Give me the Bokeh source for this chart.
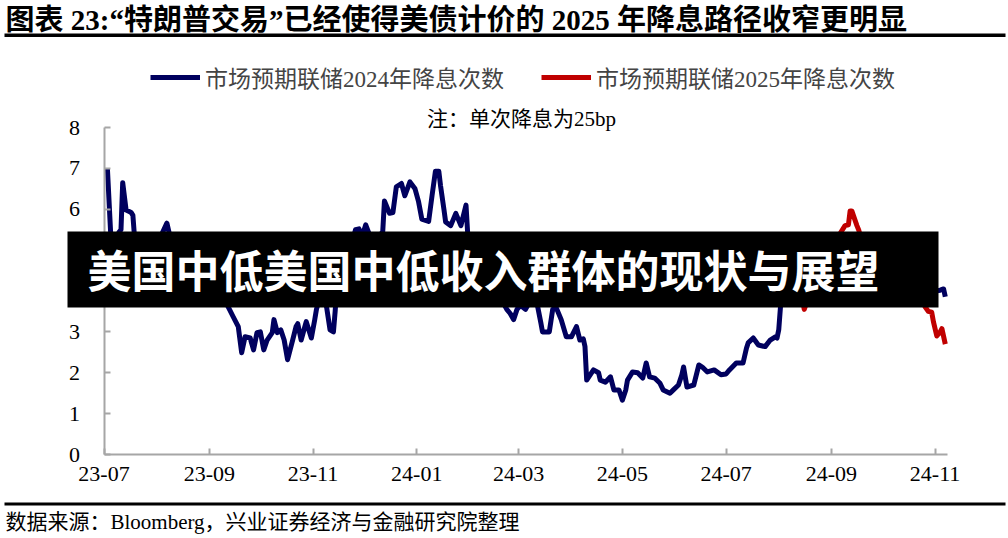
import pandas as pd
from bokeh.plotting import figure
from bokeh.models import (Range1d, FixedTicker, DatetimeTickFormatter, Label,
                          BoxAnnotation, Legend, LegendItem)
from bokeh.embed import file_html
from bokeh.resources import INLINE

# ---------------- data ----------------
blue_dates = [
    "2023-07-03", "2023-07-05", "2023-07-07", "2023-07-10", "2023-07-11", "2023-07-12",
    "2023-07-14", "2023-07-17", "2023-07-18", "2023-07-19", "2023-07-21", "2023-07-24",
    "2023-07-26", "2023-07-28", "2023-07-31", "2023-08-03", "2023-08-07", "2023-08-09",
    "2023-08-11", "2023-08-15", "2023-08-18", "2023-08-22", "2023-08-25", "2023-08-29",
    "2023-09-01", "2023-09-05", "2023-09-08", "2023-09-11", "2023-09-12", "2023-09-15",
    "2023-09-18", "2023-09-20", "2023-09-22", "2023-09-25", "2023-09-27", "2023-09-29",
    "2023-10-01", "2023-10-03", "2023-10-05", "2023-10-08", "2023-10-09", "2023-10-11",
    "2023-10-13", "2023-10-15", "2023-10-17", "2023-10-20", "2023-10-22", "2023-10-23",
    "2023-10-25", "2023-10-27", "2023-10-28", "2023-10-31", "2023-11-02", "2023-11-03",
    "2023-11-05", "2023-11-07", "2023-11-09", "2023-11-11", "2023-11-13", "2023-11-14",
    "2023-11-15", "2023-11-17", "2023-11-20", "2023-11-22", "2023-11-24", "2023-11-26",
    "2023-11-28", "2023-11-30", "2023-12-02", "2023-12-04", "2023-12-06", "2023-12-08",
    "2023-12-11", "2023-12-12", "2023-12-13", "2023-12-16", "2023-12-18", "2023-12-20",
    "2023-12-23", "2023-12-25", "2023-12-28", "2023-12-31", "2024-01-02", "2024-01-04",
    "2024-01-08", "2024-01-10", "2024-01-12", "2024-01-14", "2024-01-15", "2024-01-17",
    "2024-01-18", "2024-01-21", "2024-01-24", "2024-01-27", "2024-01-30", "2024-01-31",
    "2024-02-02", "2024-02-05", "2024-02-08", "2024-02-12", "2024-02-14", "2024-02-16",
    "2024-02-19", "2024-02-21", "2024-02-23", "2024-02-25", "2024-02-27", "2024-02-29",
    "2024-03-02", "2024-03-05", "2024-03-07", "2024-03-09", "2024-03-12", "2024-03-14",
    "2024-03-15", "2024-03-19", "2024-03-21", "2024-03-23", "2024-03-26", "2024-03-29",
    "2024-04-01", "2024-04-04", "2024-04-06", "2024-04-08", "2024-04-09", "2024-04-10",
    "2024-04-14", "2024-04-17", "2024-04-18", "2024-04-21", "2024-04-24", "2024-04-26",
    "2024-04-29", "2024-05-01", "2024-05-03", "2024-05-04", "2024-05-07", "2024-05-10",
    "2024-05-13", "2024-05-15", "2024-05-17", "2024-05-20", "2024-05-23", "2024-05-25",
    "2024-05-29", "2024-05-31", "2024-06-03", "2024-06-05", "2024-06-06", "2024-06-08",
    "2024-06-12", "2024-06-15", "2024-06-17", "2024-06-20", "2024-06-24", "2024-06-28",
    "2024-07-01", "2024-07-03", "2024-07-07", "2024-07-11", "2024-07-13", "2024-07-14",
    "2024-07-17", "2024-07-20", "2024-07-24", "2024-07-27", "2024-07-30", "2024-07-31",
    "2024-08-01", "2024-08-02", "2024-08-05", "2024-08-08", "2024-08-12", "2024-08-15",
    "2024-08-19", "2024-08-23", "2024-08-27", "2024-09-03", "2024-09-06", "2024-09-10",
    "2024-09-13", "2024-09-18", "2024-09-24", "2024-09-30", "2024-10-04", "2024-10-10",
    "2024-10-16", "2024-10-22", "2024-10-28", "2024-11-01", "2024-11-04", "2024-11-06",
    "2024-11-07",
]
blue_values = [
    7.00, 5.35, 5.20, 5.45, 5.50, 6.65,
    5.98, 5.92, 5.85, 5.30, 5.15, 5.25,
    5.05, 5.30, 5.20, 5.30, 5.66, 5.30,
    5.10, 4.95, 4.80, 4.85, 4.60, 4.45,
    4.30, 4.10, 3.90, 3.70, 3.62, 3.37,
    3.13, 2.49, 2.88, 2.85, 2.56, 2.98,
    3.00, 2.56, 2.80, 2.98, 3.30, 2.98,
    3.05, 2.80, 2.32, 2.80, 3.13, 3.20,
    2.80, 3.10, 3.25, 2.85, 3.30, 3.55,
    3.85, 3.90, 3.60, 3.05, 3.00, 3.50,
    4.10, 4.40, 4.70, 5.00, 5.20, 5.50,
    5.52, 5.35, 5.62, 5.40, 5.30, 5.25,
    5.40, 5.45, 6.20, 5.90, 5.92, 6.55,
    6.63, 6.33, 6.67, 6.50, 6.20, 5.76,
    5.70, 6.33, 6.93, 6.93, 6.58, 6.00,
    5.69, 5.60, 5.90, 5.60, 6.10, 5.40,
    5.00, 4.75, 4.85, 4.70, 4.15, 4.00,
    3.85, 3.70, 3.55, 3.45, 3.30, 3.55,
    3.65, 3.55, 3.70, 3.75, 3.65, 3.23,
    3.00, 3.00, 3.55, 3.60, 3.30, 2.88,
    2.88, 3.13, 2.80, 2.83, 2.64, 1.82,
    2.07, 2.00, 1.82, 1.77, 1.90, 1.58,
    1.58, 1.33, 1.58, 1.82, 2.02, 2.00,
    1.87, 2.24, 1.90, 1.87, 1.75, 1.58,
    1.50, 1.58, 1.70, 1.95, 2.14, 1.65,
    1.70, 2.19, 2.14, 2.02, 2.07, 1.95,
    1.97, 2.07, 2.24, 2.24, 2.60, 2.73,
    2.85, 2.68, 2.64, 2.80, 2.88, 2.85,
    3.05, 3.60, 4.80, 4.40, 4.45, 4.00,
    4.30, 4.70, 4.50, 4.60, 4.80, 4.50,
    4.75, 4.60, 4.80, 4.40, 4.05, 4.10,
    4.20, 4.10, 3.95, 4.00, 4.02, 4.05,
    3.86,
]

red_dates = [
    "2024-07-31", "2024-08-02", "2024-08-05", "2024-08-07", "2024-08-09", "2024-08-12",
    "2024-08-14", "2024-08-16", "2024-08-19", "2024-08-21", "2024-08-23", "2024-08-27",
    "2024-08-30", "2024-09-04", "2024-09-06", "2024-09-09", "2024-09-11", "2024-09-12",
    "2024-09-13", "2024-09-16", "2024-09-17", "2024-09-19", "2024-09-24", "2024-09-30",
    "2024-10-04", "2024-10-09", "2024-10-15", "2024-10-21", "2024-10-24", "2024-10-26",
    "2024-10-28", "2024-10-30", "2024-10-31", "2024-11-02", "2024-11-04", "2024-11-05",
    "2024-11-07",
]
red_values = [
    4.40, 4.90, 5.20, 4.70, 4.50, 4.30,
    4.00, 3.55, 3.90, 4.30, 4.60, 4.80,
    4.90, 5.20, 5.40, 5.60, 5.62, 5.96,
    5.96, 5.60, 5.50, 5.20, 5.10, 4.80,
    4.20, 4.05, 3.95, 3.85, 3.80, 3.62,
    3.50, 3.48, 3.25, 2.90, 3.00, 3.08,
    2.70,
]

y_ticks = [0, 1, 2, 3, 4, 5, 6, 7, 8]
x_tick_dates = ["2023-07-01", "2023-09-01", "2023-11-01", "2024-01-01", "2024-03-01",
                "2024-05-01", "2024-07-01", "2024-09-01", "2024-11-01"]
x_tick_labels = ["23-07", "23-09", "23-11", "24-01", "24-03", "24-05", "24-07", "24-09", "24-11"]
x_start, x_end = "2023-07-01", "2024-11-08"
y_start, y_end = 0, 8

title_text = "图表 23:“特朗普交易”已经使得美债计价的 2025 年降息路径收窄更明显"
series_names = ["市场预期联储2024年降息次数", "市场预期联储2025年降息次数"]
note_text = "注：单次降息为25bp"
source_text = "数据来源：Bloomberg，兴业证券经济与金融研究院整理"
banner_text = "美国中低美国中低收入群体的现状与展望"

# ---------------- layout (page pixels) ----------------
W, H = 1008, 538
AX_X0, AX_X1 = 103.5, 946.5    # page x of x_start / x_end
AX_YB, AX_YT = 454, 127        # page y of y_start / y_end
FONT = "Liberation Serif, Noto Sans CJK SC"
BLUE = "#00005E"
RED = "#C00000"
AXIS_GRAY = "#A6A6A6"

t0 = pd.Timestamp(x_start)
t1 = pd.Timestamp(x_end)
ms_per_px = (t1 - t0) / pd.Timedelta(milliseconds=1) / (AX_X1 - AX_X0)
xr0 = t0 - pd.Timedelta(milliseconds=ms_per_px * AX_X0)
xr1 = t0 + pd.Timedelta(milliseconds=ms_per_px * (W - AX_X0))
u_per_px = (y_end - y_start) / (AX_YB - AX_YT)
yr0 = y_start - u_per_px * (H - AX_YB)
yr1 = y_end + u_per_px * AX_YT


def sx(px):
    return px


def sy(py):
    return H - py


def ms(d):
    return float(pd.Timestamp(d).value // 10**6)


bx = pd.to_datetime(blue_dates)
rx = pd.to_datetime(red_dates)
tick_ms = [ms(d) for d in x_tick_dates]

p = figure(width=W, height=H, x_axis_type="datetime", output_backend="svg",
           toolbar_location=None,
           x_range=Range1d(xr0, xr1), y_range=Range1d(yr0, yr1),
           min_border=0)
p.outline_line_color = None
p.grid.visible = False
p.background_fill_color = "white"
p.border_fill_color = "white"

for ax in (p.xaxis[0], p.yaxis[0]):
    ax.axis_line_color = AXIS_GRAY
    ax.axis_line_width = 2
    ax.major_tick_line_color = AXIS_GRAY
    ax.major_tick_line_width = 2
    ax.major_tick_in = 6
    ax.major_tick_out = 0
    ax.minor_tick_line_color = None
    ax.major_label_text_font = "Liberation Serif"
    ax.major_label_text_font_size = "22px"
    ax.major_label_text_color = "black"

p.xaxis.ticker = FixedTicker(ticks=tick_ms)
p.xaxis.formatter = DatetimeTickFormatter(months="%y-%m", days="%y-%m", years="%y-%m")
p.xaxis.major_label_overrides = dict(zip(tick_ms, x_tick_labels))
p.xaxis.major_label_standoff = 12
p.xaxis.fixed_location = y_start
p.xaxis.bounds = (ms(x_start), ms(x_end))
p.yaxis.ticker = FixedTicker(ticks=y_ticks)
p.yaxis.major_label_standoff = 24
p.yaxis.fixed_location = ms(x_start)
p.yaxis.bounds = (y_start, y_end)

r_blue = p.line(bx, blue_values, line_color=BLUE, line_width=5, line_join="round")
r_red = p.line(rx, red_values, line_color=RED, line_width=5, line_join="round")

legend = Legend(items=[LegendItem(label=series_names[0], renderers=[r_blue]),
                       LegendItem(label=series_names[1], renderers=[r_red])],
                orientation="horizontal", location=(sx(150), sy(94)),
                glyph_width=50, glyph_height=24, label_standoff=5, spacing=37,
                padding=0, margin=0, border_line_color=None, background_fill_alpha=0,
                label_text_font=FONT, label_text_font_size="23px", label_height=24,
                label_text_baseline="middle")
p.add_layout(legend)

p.add_layout(Label(x=sx(5), y=sy(3), x_units="screen", y_units="screen", text=title_text,
                   text_font=FONT, text_font_style="bold", text_font_size="29px",
                   text_baseline="top", text_align="left", text_color="black"))
p.add_layout(BoxAnnotation(left=sx(4), right=sx(1005), top=sy(33), bottom=sy(36.5),
                           left_units="screen", right_units="screen",
                           top_units="screen", bottom_units="screen",
                           fill_color="black", fill_alpha=1, line_color=None))
p.add_layout(Label(x=sx(521), y=sy(118), x_units="screen", y_units="screen", text=note_text,
                   text_font=FONT, text_font_size="21px", text_baseline="middle",
                   text_align="center", text_color="black"))
p.add_layout(BoxAnnotation(left=sx(4), right=sx(1005), top=sy(502), bottom=sy(505),
                           left_units="screen", right_units="screen",
                           top_units="screen", bottom_units="screen",
                           fill_color="black", fill_alpha=1, line_color=None))
p.add_layout(Label(x=sx(5), y=sy(521), x_units="screen", y_units="screen", text=source_text,
                   text_font=FONT, text_font_size="21px", text_baseline="middle",
                   text_align="left", text_color="black"))

p.add_layout(BoxAnnotation(left=sx(67), right=sx(938), top=sy(231), bottom=sy(307),
                           left_units="screen", right_units="screen",
                           top_units="screen", bottom_units="screen",
                           fill_color="black", fill_alpha=1, line_color=None, level="overlay"))
p.add_layout(Label(x=sx(87), y=sy(268), x_units="screen", y_units="screen", text=banner_text,
                   text_font="Noto Sans CJK SC", text_font_style="bold", text_font_size="44px",
                   text_baseline="middle", text_align="left", text_color="white",
                   level="overlay"))

open("out.html", "w").write(file_html(p, INLINE))
